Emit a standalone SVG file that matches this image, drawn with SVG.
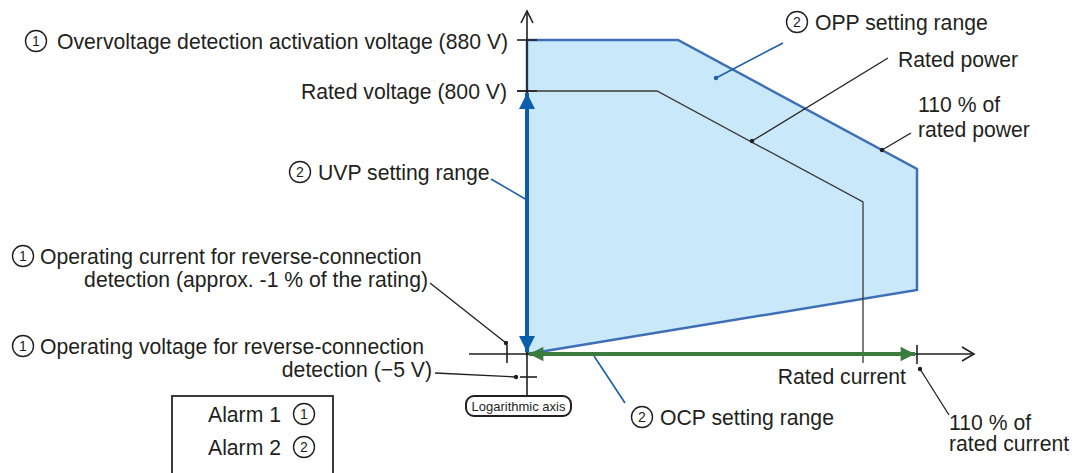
<svg xmlns="http://www.w3.org/2000/svg" width="1077" height="473" viewBox="0 0 1077 473">
<style>
.t{font-family:"Liberation Sans",Arial,Helvetica,sans-serif;font-size:21.2px;fill:#231f20}
.s{font-family:"Liberation Sans",Arial,Helvetica,sans-serif;font-size:13px;fill:#231f20;text-anchor:middle}
.num{font-family:"Liberation Sans",Arial,Helvetica,sans-serif;font-size:14px;fill:#231f20;text-anchor:middle}
.cir{fill:#fff;stroke:#231f20;stroke-width:1.4}
.ax{stroke:#231f20;stroke-width:1.6;fill:none}
.ld{stroke:#231f20;stroke-width:1.3;fill:none}
.lb{stroke:#1a5fa8;stroke-width:1.6;fill:none}
.dot{fill:#231f20}
.dotb{fill:#1a5fa8}
</style>
<defs>
<marker id="hb" viewBox="0 0 10 10" refX="10" refY="5" markerWidth="4" markerHeight="4" orient="auto-start-reverse" markerUnits="strokeWidth"><path d="M0,0 L10,5 L0,10 z" fill="#0a5fad"/></marker>
<marker id="hg" viewBox="0 0 10 10" refX="10" refY="5" markerWidth="4" markerHeight="3.6" orient="auto-start-reverse" markerUnits="strokeWidth"><path d="M0,0 L10,5 L0,10 z" fill="#3a7d3e"/></marker>
</defs>

<g id="region">
<polygon points="527,40 678,40 917,169 917,290 527,354" fill="#c9e9fa" stroke="#3d6fb6" stroke-width="2.5" stroke-linejoin="miter"/>
</g>

<g id="rated-power-curve">
<polyline points="517,91 657,91 863,202 863,363" fill="none" stroke="#3a3a3a" stroke-width="1.3"/>
</g>

<g id="axes">
<line class="ax" x1="527" y1="397" x2="527" y2="11"/>
<polyline class="ax" points="521,23 527,11 533,23"/>
<line class="ax" x1="469" y1="354" x2="974" y2="354"/>
<polyline class="ax" points="962,347 974,354 962,361"/>
<line class="ax" x1="517" y1="40" x2="537" y2="40"/>
<line class="ax" x1="517" y1="91" x2="537" y2="91"/>
<line class="ax" x1="520" y1="377" x2="537" y2="377"/>
<line class="ax" x1="507" y1="345" x2="507" y2="363"/>
<line class="ax" x1="917" y1="345" x2="917" y2="364"/>
</g>

<g id="uvp-arrow">
<line x1="527" y1="93" x2="527" y2="352" stroke="#0a5fad" stroke-width="4" marker-start="url(#hb)" marker-end="url(#hb)"/>
</g>
<g id="ocp-arrow">
<line x1="529" y1="354" x2="915" y2="354" stroke="#3a7d3e" stroke-width="4" marker-start="url(#hg)" marker-end="url(#hg)"/>
</g>

<g id="connectors">
<line class="lb" x1="491" y1="179" x2="527" y2="200"/>
<line class="lb" x1="783" y1="43" x2="716" y2="78"/>
<circle class="dotb" cx="716" cy="78" r="2.2"/>
<line class="lb" x1="594" y1="356" x2="625" y2="403"/>
<line class="ld" x1="888" y1="58" x2="752" y2="141"/>
<circle class="dot" cx="752" cy="141" r="2.2"/>
<line class="ld" x1="911" y1="133" x2="882" y2="150"/>
<circle class="dot" cx="882" cy="150" r="2.2"/>
<line class="ld" x1="430" y1="283" x2="506" y2="343"/>
<circle class="dot" cx="506" cy="343" r="2.2"/>
<line class="ld" x1="435" y1="373" x2="516" y2="377"/>
<circle class="dot" cx="516" cy="377" r="2.2"/>
<line class="ld" x1="920" y1="369" x2="949" y2="415"/>
<circle class="dot" cx="920" cy="369" r="2.2"/>
</g>

<g id="label-ovp">
<circle class="cir" cx="36" cy="41" r="10.5"/><text class="num" x="36" y="46">1</text>
<text class="t" x="57" y="49">Overvoltage detection activation voltage (880 V)</text>
</g>
<g id="label-rated-voltage">
<text class="t" x="507" y="99" text-anchor="end">Rated voltage (800 V)</text>
</g>
<g id="label-uvp">
<circle class="cir" cx="300" cy="172" r="10.5"/><text class="num" x="300" y="177">2</text>
<text class="t" x="318" y="180">UVP setting range</text>
</g>
<g id="label-rev-current">
<circle class="cir" cx="23" cy="256" r="10.5"/><text class="num" x="23" y="261">1</text>
<text class="t" x="40" y="264">Operating current for reverse-connection</text>
<text class="t" x="428" y="287" text-anchor="end">detection (approx. -1 % of the rating)</text>
</g>
<g id="label-rev-voltage">
<circle class="cir" cx="23" cy="346" r="10.5"/><text class="num" x="23" y="351">1</text>
<text class="t" x="40" y="354">Operating voltage for reverse-connection</text>
<text class="t" x="432" y="377" text-anchor="end">detection (−5 V)</text>
</g>
<g id="label-log-axis">
<rect x="466" y="396" width="105" height="20" rx="8" fill="#fff" stroke="#231f20" stroke-width="2"/>
<text class="s" x="518.5" y="411">Logarithmic axis</text>
</g>
<g id="label-opp">
<circle class="cir" cx="797" cy="22" r="10.5"/><text class="num" x="797" y="27">2</text>
<text class="t" x="815" y="30">OPP setting range</text>
</g>
<g id="label-rated-power">
<text class="t" x="898" y="67">Rated power</text>
</g>
<g id="label-110-power">
<text class="t" x="918" y="112">110 % of</text>
<text class="t" x="918" y="137">rated power</text>
</g>
<g id="label-rated-current">
<text class="t" x="906" y="384" text-anchor="end">Rated current</text>
</g>
<g id="label-ocp">
<circle class="cir" cx="642" cy="417" r="10.5"/><text class="num" x="642" y="422">2</text>
<text class="t" x="660" y="425">OCP setting range</text>
</g>
<g id="label-110-current">
<text class="t" x="949" y="430">110 % of</text>
<text class="t" x="949" y="451">rated current</text>
</g>
<g id="legend">
<rect x="172" y="396" width="161" height="90" fill="none" stroke="#3a3a3a" stroke-width="2"/>
<text class="t" x="208" y="422">Alarm 1</text>
<circle class="cir" cx="304" cy="414" r="10.5"/><text class="num" x="304" y="419">1</text>
<text class="t" x="208" y="455">Alarm 2</text>
<circle class="cir" cx="304" cy="447" r="10.5"/><text class="num" x="304" y="452">2</text>
</g>
</svg>
